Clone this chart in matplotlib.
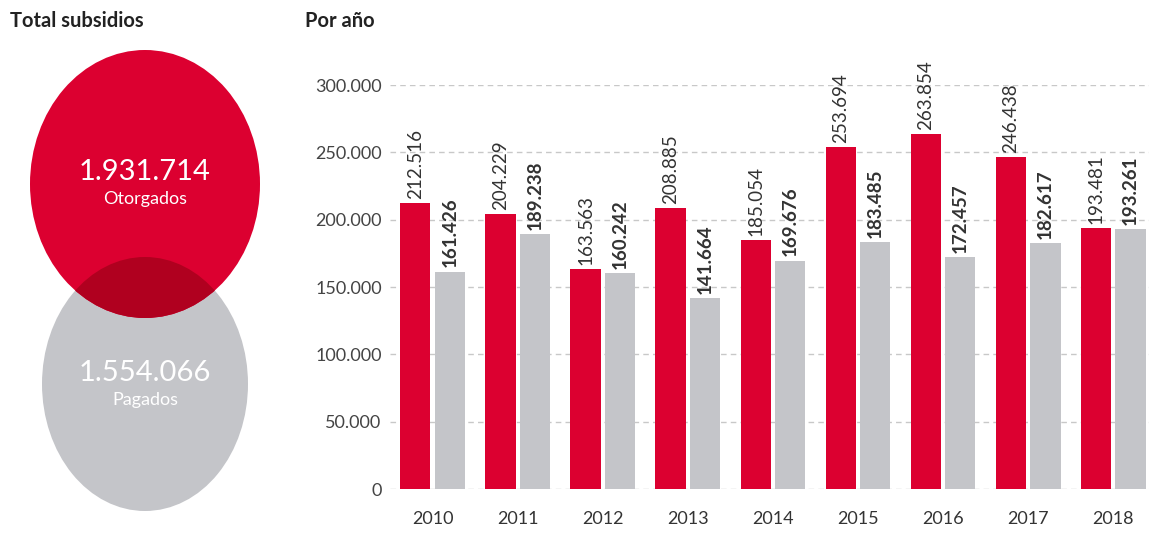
import matplotlib
matplotlib.use("Agg")
import matplotlib.pyplot as plt
import numpy as np
from matplotlib.patches import Ellipse

plt.rcParams["font.family"] = ["Lato", "DejaVu Sans"]

YEARS     = ["2010", "2011", "2012", "2013", "2014", "2015", "2016", "2017", "2018"]
OTORGADOS = [212516, 204229, 163563, 208885, 185054, 253694, 263854, 246438, 193481]
PAGADOS   = [161426, 189238, 160242, 141664, 169676, 183485, 172457, 182617, 193261]
TOTAL_LABELS = ["Otorgados", "Pagados"]
TOTALS       = [1931714, 1554066]
Y_TICKS      = [0, 50000, 100000, 150000, 200000, 250000, 300000]

RED      = "#dc0030"
DARK_RED = "#b0001f"
GRAY     = "#c4c5c9"
TXT      = "#333333"

W, H = 1149, 536


def fmt(v):
    return f"{v:,}".replace(",", ".")


fig = plt.figure(figsize=(W / 100, H / 100), dpi=100)

# left panel in pixel coords
left = fig.add_axes([0, 0, 1, 1])
left.set_xlim(0, W)
left.set_ylim(H, 0)
left.axis("off")

gray_e = Ellipse((145, 384), 206, 254, color=GRAY, lw=0)
red_e = Ellipse((145, 184), 230, 268, color=RED, lw=0)
left.add_patch(gray_e)
left.add_patch(red_e)
overlap = Ellipse((145, 184), 230, 268, color=DARK_RED, lw=0)
left.add_patch(overlap)
overlap.set_clip_path(gray_e)

for (cy, val, lab) in zip([172, 373], TOTALS, TOTAL_LABELS):
    left.text(145, cy, fmt(val), ha="center", va="center", color="white",
              fontsize=21)
    left.text(145, cy + 27, lab, ha="center", va="center", color="white",
              fontsize=13)

left.text(10, 21, "Total subsidios", ha="left", va="center", fontsize=14.5,
          fontweight="bold", color="#222")
left.text(305, 21, "Por año", ha="left", va="center", fontsize=14.5,
          fontweight="bold", color="#222")

# bar chart
ax = fig.add_axes([390 / W, (H - 489) / H, 1 - 390 / W, (489 - 85) / H])
x = np.arange(len(YEARS))
w = 0.355
b1 = ax.bar(x - w / 2 - 0.025, OTORGADOS, w, color=RED, zorder=2)
b2 = ax.bar(x + w / 2 + 0.025, PAGADOS, w, color=GRAY, zorder=2)

for bars, vals, weight in [(b1, OTORGADOS, "normal"), (b2, PAGADOS, "bold")]:
    for bar, v in zip(bars, vals):
        ax.annotate(fmt(v), (bar.get_x() + bar.get_width() / 2, v),
                    xytext=(0, 3), textcoords="offset points",
                    rotation=90, ha="center", va="bottom", fontsize=13.5,
                    fontweight=weight, color=TXT, annotation_clip=False)

ax.set_xlim(-0.5, 8.42)
ax.set_ylim(0, 300000)
ax.set_yticks(Y_TICKS)
ax.set_yticklabels([fmt(t) for t in Y_TICKS], fontsize=13, color="#444")
ax.set_xticks(x)
ax.set_xticklabels(YEARS, fontsize=13, color=TXT)
ax.tick_params(length=0)
ax.tick_params(axis="y", pad=6)
ax.tick_params(axis="x", pad=16)
for s in ax.spines.values():
    s.set_visible(False)
ax.grid(axis="y", color="#c8c8c8", linestyle=(0, (4, 3)), linewidth=1, zorder=0)
ax.set_facecolor("none")

fig.savefig("out.png", dpi=100)
